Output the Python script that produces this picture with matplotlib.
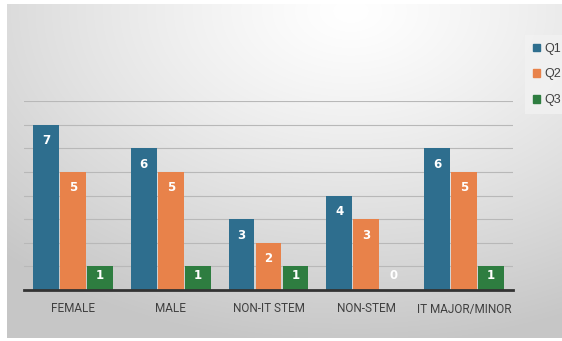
import matplotlib.pyplot as plt
import numpy as np
from matplotlib.patches import Patch

categories = ['FEMALE', 'MALE', 'NON-IT STEM', 'NON-STEM', 'IT MAJOR/MINOR']
series = ['Q1', 'Q2', 'Q3']
q1 = [7, 6, 3, 4, 6]
q2 = [5, 5, 2, 3, 5]
q3 = [1, 1, 1, 0, 1]
colors = ['#2e6e8e', '#e8824a', '#2e7d40']

W, H = 562, 341
fig = plt.figure(figsize=(W / 100, H / 100), dpi=100)
fig.patch.set_facecolor('white')

# soft radial backdrop behind the chart
bg = fig.add_axes([7 / W, 3 / H, 555 / W, 334 / H])
yy, xx = np.mgrid[0:1:334j, 0:1:555j]
d = np.sqrt(((xx - 0.62) * 1.1) ** 2 + ((yy - 0.02) * 1.0) ** 2)
shade = np.clip(1.0 - 0.22 * d ** 1.2, 0.78, 1.0)
bg.imshow(np.dstack([shade] * 3), aspect='auto', extent=[0, 1, 1, 0])
bg.set_axis_off()

ax = fig.add_axes([24 / W, 51 / H, 489 / W, 189 / H])
ax.patch.set_alpha(0)

x = np.arange(len(categories))
width = 0.265
step = 0.276
for i, (vals, c) in enumerate(zip([q1, q2, q3], colors)):
    pos = x + (i - 1) * step
    ax.bar(pos, vals, width, color=c, zorder=3)
    for p, v in zip(pos, vals):
        ax.text(p, max(v - 0.68, 0.6), str(v), ha='center', va='center',
                color='white', fontsize=8.5, fontweight='bold', zorder=4)

ax.set_xlim(-0.5, len(categories) - 0.5)
ax.set_ylim(0, 8)
ax.set_yticks(range(1, 9))
ax.yaxis.grid(True, color='#b8b8b8', linewidth=0.8, zorder=0)
ax.tick_params(axis='y', left=False, labelleft=False)
ax.set_xticks(x)
ax.set_xticklabels(categories, fontsize=8.5, color='#404040', family='Roboto')
ax.tick_params(axis='x', length=0, pad=9)
for s in ['top', 'right', 'left']:
    ax.spines[s].set_visible(False)
ax.spines['bottom'].set_color('#333333')
ax.spines['bottom'].set_linewidth(2)
ax.spines['bottom'].set_zorder(5)

handles = [Patch(color=c) for c in colors]
leg = fig.legend(handles, series, loc='upper left',
                 bbox_to_anchor=(519 / W, 1 - 29 / H), frameon=True,
                 prop={'family': 'Liberation Sans', 'size': 9},
                 handlelength=0.55, handleheight=0.55,
                 handletextpad=0.35, labelspacing=1.1, borderpad=0.6)
leg.get_frame().set_facecolor('#f2f2f2')
leg.get_frame().set_edgecolor('none')
leg.get_frame().set_boxstyle('square', pad=0)
for t in leg.get_texts():
    t.set_color('#404040')

fig.savefig('out.png', dpi=100)
